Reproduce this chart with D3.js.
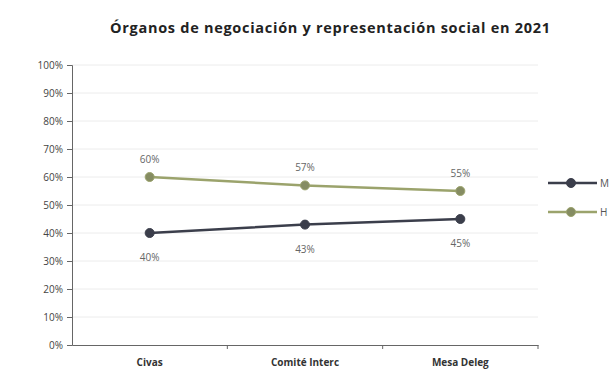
<!DOCTYPE html>
<html>
<head>
<meta charset="utf-8">
<script src="https://cdn.jsdelivr.net/npm/d3@7"></script>
<style>
  body { margin: 0; background: #fff; }
  text { font-family: "Open Sans", "DejaVu Sans", sans-serif; }
</style>
</head>
<body>
<div id="chart"></div>
<script>
// chart data
var categories = ["Civas", "Comité Interc", "Mesa Deleg"];
var seriesNames = ["M", "H"];
var valuesM = [0.40, 0.43, 0.45];
var valuesH = [0.60, 0.57, 0.55];
var yTicks = [0, 0.1, 0.2, 0.3, 0.4, 0.5, 0.6, 0.7, 0.8, 0.9, 1.0];
var titleText = "Órganos de negociación y representación social en 2021";

var width = 616, height = 382;
var margin = { top: 65, right: 78, bottom: 37, left: 72 };
var innerW = width - margin.left - margin.right;
var innerH = height - margin.top - margin.bottom;

var colors = { M: "#3b3e4b", H: "#9ba36c" };
var markerFill = { M: "#3b3e4b", H: "#858c62" };

var svg = d3.select("#chart").append("svg")
  .attr("width", width)
  .attr("height", height);

svg.append("text")
  .attr("x", 110)
  .attr("y", 33)
  .attr("font-size", 14.5)
  .attr("font-weight", "bold")
  .attr("fill", "#222")
  .attr("textLength", 440)
  .attr("lengthAdjust", "spacing")
  .text(titleText);

var g = svg.append("g")
  .attr("transform", "translate(" + margin.left + "," + margin.top + ")");

var x = d3.scaleBand().domain(categories).range([0, innerW]);
var y = d3.scaleLinear().domain([0, 1]).range([innerH, 0]);

// gridlines
g.append("g")
  .selectAll("line")
  .data(yTicks.slice(1))
  .join("line")
  .attr("x1", 0)
  .attr("x2", innerW)
  .attr("y1", d => y(d))
  .attr("y2", d => y(d))
  .attr("stroke", "#ececec")
  .attr("stroke-width", 1);

// y axis
var yAxis = g.append("g")
  .call(d3.axisLeft(y).tickValues(yTicks).tickFormat(d3.format(".0%")).tickSize(5).tickPadding(4));
yAxis.select(".domain").attr("stroke", "#666");
yAxis.selectAll(".tick line").attr("stroke", "#666");
yAxis.selectAll("text").attr("font-size", 10).attr("fill", "#444");

// x axis
var xAxis = g.append("g")
  .attr("transform", "translate(0," + innerH + ")")
  .call(d3.axisBottom(x).tickSize(0).tickPadding(14));
xAxis.select(".domain").attr("stroke", "#666");
xAxis.selectAll("text").attr("font-size", 10).attr("font-weight", "bold").attr("fill", "#333");
// tick marks between categories
g.append("g")
  .selectAll("line")
  .data(categories)
  .join("line")
  .attr("x1", d => x(d) + x.bandwidth())
  .attr("x2", d => x(d) + x.bandwidth())
  .attr("y1", innerH)
  .attr("y2", innerH + 4)
  .attr("stroke", "#666");

var series = [
  { name: "M", values: valuesM, dy: 28 },
  { name: "H", values: valuesH, dy: -14 }
];

var line = d3.line()
  .x((d, i) => x(categories[i]) + x.bandwidth() / 2)
  .y(d => y(d));

series.forEach(function (s) {
  g.append("path")
    .datum(s.values)
    .attr("fill", "none")
    .attr("stroke", colors[s.name])
    .attr("stroke-width", 2.5)
    .attr("d", line);

  g.selectAll(".pt-" + s.name)
    .data(s.values)
    .join("circle")
    .attr("class", "pt-" + s.name)
    .attr("cx", (d, i) => x(categories[i]) + x.bandwidth() / 2)
    .attr("cy", d => y(d))
    .attr("r", 4.5)
    .attr("fill", markerFill[s.name])
    .attr("stroke", colors[s.name]);

  g.selectAll(".lbl-" + s.name)
    .data(s.values)
    .join("text")
    .attr("class", "lbl-" + s.name)
    .attr("x", (d, i) => x(categories[i]) + x.bandwidth() / 2)
    .attr("y", d => y(d) + s.dy)
    .attr("text-anchor", "middle")
    .attr("font-size", 10)
    .attr("fill", "#666")
    .text(d => d3.format(".0%")(d));
});

// legend
var legend = svg.append("g").attr("transform", "translate(548,183)");
seriesNames.forEach(function (n, i) {
  var row = legend.append("g").attr("transform", "translate(0," + (i * 29) + ")");
  row.append("line")
    .attr("x1", 0).attr("x2", 49)
    .attr("stroke", colors[n]).attr("stroke-width", 2.5);
  row.append("circle")
    .attr("cx", 23).attr("r", 4.5)
    .attr("fill", markerFill[n]).attr("stroke", colors[n]);
  row.append("text")
    .attr("x", 52).attr("y", 4)
    .attr("font-size", 10)
    .attr("fill", "#555")
    .text(n);
});
</script>
</body>
</html>
